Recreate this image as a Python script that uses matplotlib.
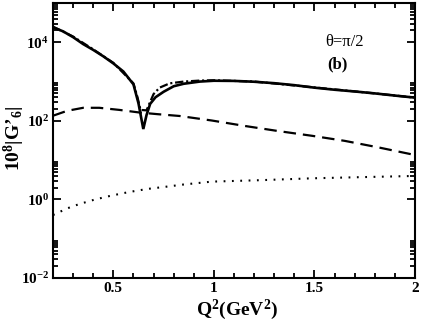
import matplotlib
matplotlib.use("Agg")
import matplotlib.pyplot as plt
from matplotlib.ticker import FixedLocator, MultipleLocator, LogFormatterSciNotation, NullFormatter, FuncFormatter

plt.rcParams['font.family'] = ['Liberation Serif', 'DejaVu Serif']
plt.rcParams['mathtext.fontset'] = 'custom'
plt.rcParams['mathtext.rm'] = 'Liberation Serif'
plt.rcParams['mathtext.bf'] = 'Liberation Serif:bold'
plt.rcParams['mathtext.it'] = 'Liberation Serif:italic'
plt.rcParams['mathtext.default'] = 'bf'
plt.rcParams['lines.scale_dashes'] = False

# ---- data ----
q2_solid = [0.2, 0.25, 0.3, 0.35, 0.4, 0.45, 0.5, 0.55, 0.6, 0.625, 0.649, 0.665, 0.683,
            0.71, 0.75, 0.8, 0.85, 0.93, 1.0, 1.1, 1.2, 1.3, 1.4, 1.5, 1.6, 1.7, 1.8, 1.9, 2.0]
g_solid = [2.4e4, 1.9e4, 1.35e4, 9.0e3, 6.4e3, 4.4e3, 2.9e3, 1.8e3, 850, 280, 62, 140, 270,
           400, 550, 760, 880, 1000, 1050, 1040, 990, 910, 810, 700, 620, 560, 500, 440, 390]

q2_dashdot = [0.2, 0.3, 0.4, 0.5, 0.6, 0.62, 0.635, 0.665, 0.68, 0.7, 0.73, 0.78, 0.85,
              0.93, 1.0, 1.2, 1.5, 1.8, 2.0]
g_dashdot = [2.5e4, 1.4e4, 6.6e3, 3.0e3, 900, 400, 190, 185, 280, 480, 700, 900, 1000,
             1060, 1080, 1000, 710, 500, 390]

q2_dashed = [0.2, 0.27, 0.35, 0.43, 0.53, 0.63, 0.72, 0.83, 0.99, 1.155, 1.32, 1.49,
             1.65, 1.82, 2.0]
g_dashed = [135, 180, 215, 215, 190, 163, 148, 133, 102, 74, 55, 41.5, 31, 21, 13.5]

q2_dotted = [0.2, 0.27, 0.33, 0.41, 0.49, 0.58, 0.67, 0.76, 0.85, 0.99, 1.24, 1.49, 1.74, 2.0]
g_dotted = [0.40, 0.59, 0.76, 1.0, 1.25, 1.55, 1.85, 2.1, 2.4, 2.84, 3.1, 3.45, 3.7, 3.96]

y_major = [1e-2, 1e0, 1e2, 1e4]
y_minor = [k * 10.0 ** n for n in (-2, 0, 2, 4) for k in range(2, 10)]

W, H = 425, 327
fig = plt.figure(figsize=(W / 100, H / 100), dpi=100)
ax = fig.add_axes([53 / W, 1 - 278 / H, 362 / W, 275 / H])

ax.plot(q2_solid, g_solid, color='black', lw=1.9, solid_joinstyle='miter')
ax.plot(q2_dashdot, g_dashdot, color='black', lw=1.6, dashes=(6, 2, 1.5, 2))
ax.plot(q2_dashed, g_dashed, color='black', lw=1.6, dashes=(9, 5))
ax.plot(q2_dotted, g_dotted, color='black', lw=1.5, dashes=(1.3, 4.7))

ax.set_yscale('log')
ax.set_xlim(0.2, 2.0)
ax.set_ylim(1e-2, 1e5)

ax.yaxis.set_major_locator(FixedLocator(y_major))
ax.yaxis.set_minor_locator(FixedLocator(y_minor))
ax.yaxis.set_major_formatter(LogFormatterSciNotation())
ax.yaxis.set_minor_formatter(NullFormatter())
ax.xaxis.set_major_locator(MultipleLocator(0.5))
ax.xaxis.set_minor_locator(MultipleLocator(0.1))
ax.xaxis.set_major_formatter(FuncFormatter(lambda v, p: '%g' % v))

ax.tick_params(which='both', direction='in', top=True, right=True, width=1.3)
ax.tick_params(which='major', length=6, labelsize=11, pad=3)
ax.tick_params(which='minor', length=3.5)
for lab in ax.get_xticklabels() + ax.get_yticklabels():
    lab.set_fontweight('bold')
for s in ax.spines.values():
    s.set_linewidth(1.5)

ax.set_xlabel('Q$^{2}$(GeV$^{2}$)', fontsize=14, fontweight='bold')
ax.set_ylabel('10$^{8}$|G\u2019$_{6}$|', fontsize=14, fontweight='bold')
ax.xaxis.set_label_coords((237 - 53) / 362, -(310 - 278) / 275)
ax.yaxis.set_label_coords((14 - 53) / 362, (278 - 138) / 275)
ax.xaxis.label.set_va('center')
ax.yaxis.label.set_va('center')

def fig_px(x, y):
    return (x / W, 1 - y / H)

fig.text(*fig_px(344, 42), '\u03b8=\u03c0/2', fontsize=12, ha='center', va='center')
fig.text(*fig_px(337, 64), '(b)', fontsize=12, fontweight='bold', ha='center', va='center')

fig.savefig('out.png', dpi=100)
